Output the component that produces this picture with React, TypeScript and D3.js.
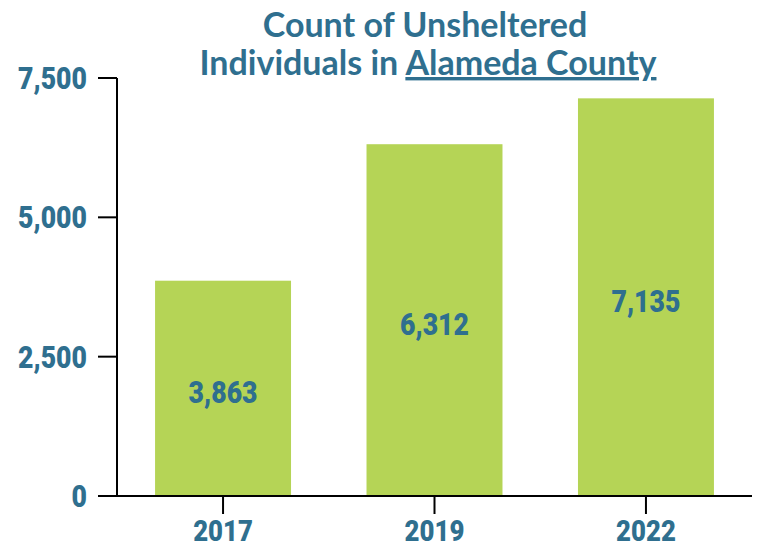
import React from "react";
import * as d3 from "d3";

const years = ["2017", "2019", "2022"];
const counts = [3863, 6312, 7135];
const yTicks = [0, 2500, 5000, 7500];

const W = 758;
const H = 548;
const BLUE = "#2f6f8f";
const GREEN = "#b5d456";

export default function App() {
  const x = d3.scaleBand<string>().domain(years).range([117, 752]).paddingInner(0.357).paddingOuter(0.18);
  const y = d3.scaleLinear().domain([0, 7500]).range([496, 78]);
  const fmt = d3.format(",");
  const numFont = "Roboto, sans-serif";
  const sx = 0.86;
  const sq = (cx: number) => `translate(${cx},0) scale(${sx},1) translate(${-cx},0)`;
  return (
    <svg width={W} height={H} style={{ position: "absolute", left: 0, top: 0 }}>
      <rect width={W} height={H} fill="#fff" />
      <text x={425} y={37} textAnchor="middle" fill={BLUE} fontFamily="Lato, sans-serif" fontWeight={700} fontSize={34}>
        Count of Unsheltered
      </text>
      <text x={428} y={75} textAnchor="middle" fill={BLUE} fontFamily="Lato, sans-serif" fontWeight={700} fontSize={34}>
        Individuals in <tspan textDecoration="underline">Alameda County</tspan>
      </text>
      {years.map((yr, i) => (
        <rect key={yr} x={x(yr)!} y={y(counts[i])} width={x.bandwidth()} height={y(0) - y(counts[i])} fill={GREEN} />
      ))}
      {years.map((yr, i) => {
        const cx = x(yr)! + x.bandwidth() / 2;
        return (
          <text key={"l" + yr} x={cx} y={(y(counts[i]) + y(0)) / 2 + 15}
            textAnchor="middle" fill={BLUE} fontFamily={numFont} fontWeight={900} fontSize={31}
            transform={sq(cx)}>
            {fmt(counts[i])}
          </text>
        );
      })}
      <line x1={117} x2={117} y1={y(7500)} y2={y(0)} stroke="#000" strokeWidth={2} />
      <line x1={98} x2={752} y1={y(0)} y2={y(0)} stroke="#000" strokeWidth={2} />
      {yTicks.map((t) => (
        <g key={t}>
          <line x1={98} x2={117} y1={y(t)} y2={y(t)} stroke="#000" strokeWidth={2} />
          <text x={87} y={y(t) + 11} textAnchor="end" fill={BLUE} fontFamily={numFont} fontWeight={900} fontSize={31}
            transform={sq(87)}>
            {fmt(t)}
          </text>
        </g>
      ))}
      {years.map((yr) => {
        const cx = x(yr)! + x.bandwidth() / 2;
        return (
          <g key={"t" + yr}>
            <line x1={cx} x2={cx} y1={y(0)} y2={y(0) + 18} stroke="#000" strokeWidth={2} />
            <text x={cx} y={541} textAnchor="middle" fill={BLUE} fontFamily={numFont} fontWeight={900} fontSize={30}
              transform={sq(cx)}>
              {yr}
            </text>
          </g>
        );
      })}
    </svg>
  );
}
